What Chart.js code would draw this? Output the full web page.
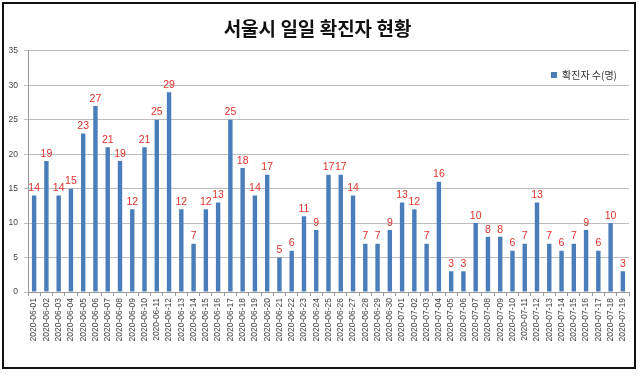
<!DOCTYPE html>
<html>
<head>
<meta charset="utf-8">
<script src="https://cdn.jsdelivr.net/npm/chart.js@4"></script>
<style>
  html, body { margin: 0; padding: 0; background: #fff; }
  #wrap { width: 640px; height: 376px; }
</style>
</head>
<body>
<div id="wrap"><canvas id="dailyChart" width="640" height="376"></canvas></div>
<script>
// Seoul daily confirmed cases, 2020-06-01 .. 2020-07-19
const dates = [
  '2020-06-01', '2020-06-02', '2020-06-03', '2020-06-04', '2020-06-05', '2020-06-06', '2020-06-07',
  '2020-06-08', '2020-06-09', '2020-06-10', '2020-06-11', '2020-06-12', '2020-06-13', '2020-06-14',
  '2020-06-15', '2020-06-16', '2020-06-17', '2020-06-18', '2020-06-19', '2020-06-20', '2020-06-21',
  '2020-06-22', '2020-06-23', '2020-06-24', '2020-06-25', '2020-06-26', '2020-06-27', '2020-06-28',
  '2020-06-29', '2020-06-30', '2020-07-01', '2020-07-02', '2020-07-03', '2020-07-04', '2020-07-05',
  '2020-07-06', '2020-07-07', '2020-07-08', '2020-07-09', '2020-07-10', '2020-07-11', '2020-07-12',
  '2020-07-13', '2020-07-14', '2020-07-15', '2020-07-16', '2020-07-17', '2020-07-18', '2020-07-19'
];
const cases = [
  14, 19, 14, 15, 23, 27, 21, 19, 12, 21, 25, 29, 12, 7, 12, 13, 25, 18, 14, 17,
  5, 6, 11, 9, 17, 17, 14, 7, 7, 9,
  13, 12, 7, 16, 3, 3, 10, 8, 8, 6, 7, 13, 7, 6, 7, 9, 6, 10, 3
];
const seriesName = '확진자 수(명)';
const chartTitle = '서울시 일일 확진자 현황';

// white background + black frame like the pasted image
const framePlugin = {
  id: 'frame',
  beforeDraw(chart) {
    const c = chart.ctx;
    c.save();
    c.fillStyle = '#fff';
    c.fillRect(0, 0, chart.width, chart.height);
    c.restore();
  },
  afterDraw(chart) {
    const c = chart.ctx;
    c.save();
    c.strokeStyle = '#111';
    c.lineWidth = 2;
    c.strokeRect(3, 3, 632, 365);
    c.restore();
  }
};

// move the legend into the top right corner of the plot
const legendSpot = {
  id: 'legendSpot',
  afterLayout(chart) {
    const lg = chart.legend;
    if (!lg) return;
    const w = lg.width;
    lg.left = chart.chartArea.right - w - 2;
    lg.right = lg.left + w;
    lg.top = 66;
    lg.height = 16;
    lg.bottom = lg.top + lg.height;
  }
};

// red value labels above the bars
const valueLabels = {
  id: 'valueLabels',
  afterDatasetsDraw(chart) {
    const c = chart.ctx;
    const meta = chart.getDatasetMeta(0);
    c.save();
    c.font = '10.5px "Liberation Sans", Arial, sans-serif';
    c.fillStyle = '#e0332b';
    c.textAlign = 'center';
    c.textBaseline = 'bottom';
    meta.data.forEach((bar, i) => {
      c.fillText(String(cases[i]), bar.x, bar.y - 2);
    });
    c.restore();
  }
};

const ctx = document.getElementById('dailyChart').getContext('2d');
const dailyChart = new Chart(ctx, {
  type: 'bar',
  data: {
    labels: dates,
    datasets: [{
      label: seriesName,
      data: cases,
      backgroundColor: '#4a7ebb',
      borderWidth: 0,
      barPercentage: 0.36,
      categoryPercentage: 1
    }]
  },
  options: {
    responsive: false,
    animation: false,
    layout: {
      padding: { left: 6, right: 11, top: 0, bottom: 24 }
    },
    plugins: {
      title: {
        display: true,
        text: chartTitle,
        color: '#111',
        font: { family: '"Noto Sans CJK KR", sans-serif', size: 19, weight: 'bold' },
        padding: { top: 17, bottom: 11 }
      },
      legend: {
        display: true,
        position: 'chartArea',
        align: 'start',
        labels: {
          boxWidth: 6,
          boxHeight: 6,
          padding: 4,
          color: '#333',
          font: { family: '"Noto Sans CJK KR", sans-serif', size: 10 }
        }
      },
      tooltip: { enabled: false }
    },
    scales: {
      x: {
        grid: {
          drawOnChartArea: false,
          offset: true,
          tickLength: 4,
          color: '#999'
        },
        border: { color: '#999' },
        ticks: {
          autoSkip: false,
          minRotation: 90,
          maxRotation: 90,
          padding: 2,
          color: '#444',
          font: { family: '"Liberation Sans", Arial, sans-serif', size: 8.5 }
        },
        afterFit(scale) { scale.height = 60; }
      },
      y: {
        min: 0,
        max: 35,
        ticks: {
          stepSize: 5,
          padding: 6,
          color: '#444',
          font: { family: '"Liberation Sans", Arial, sans-serif', size: 8.5 }
        },
        grid: {
          color: '#bdbdbd',
          tickLength: 4
        },
        border: { color: '#999' },
        afterFit(scale) { scale.width = 22; }
      }
    }
  },
  plugins: [framePlugin, legendSpot, valueLabels]
});
</script>
</body>
</html>
